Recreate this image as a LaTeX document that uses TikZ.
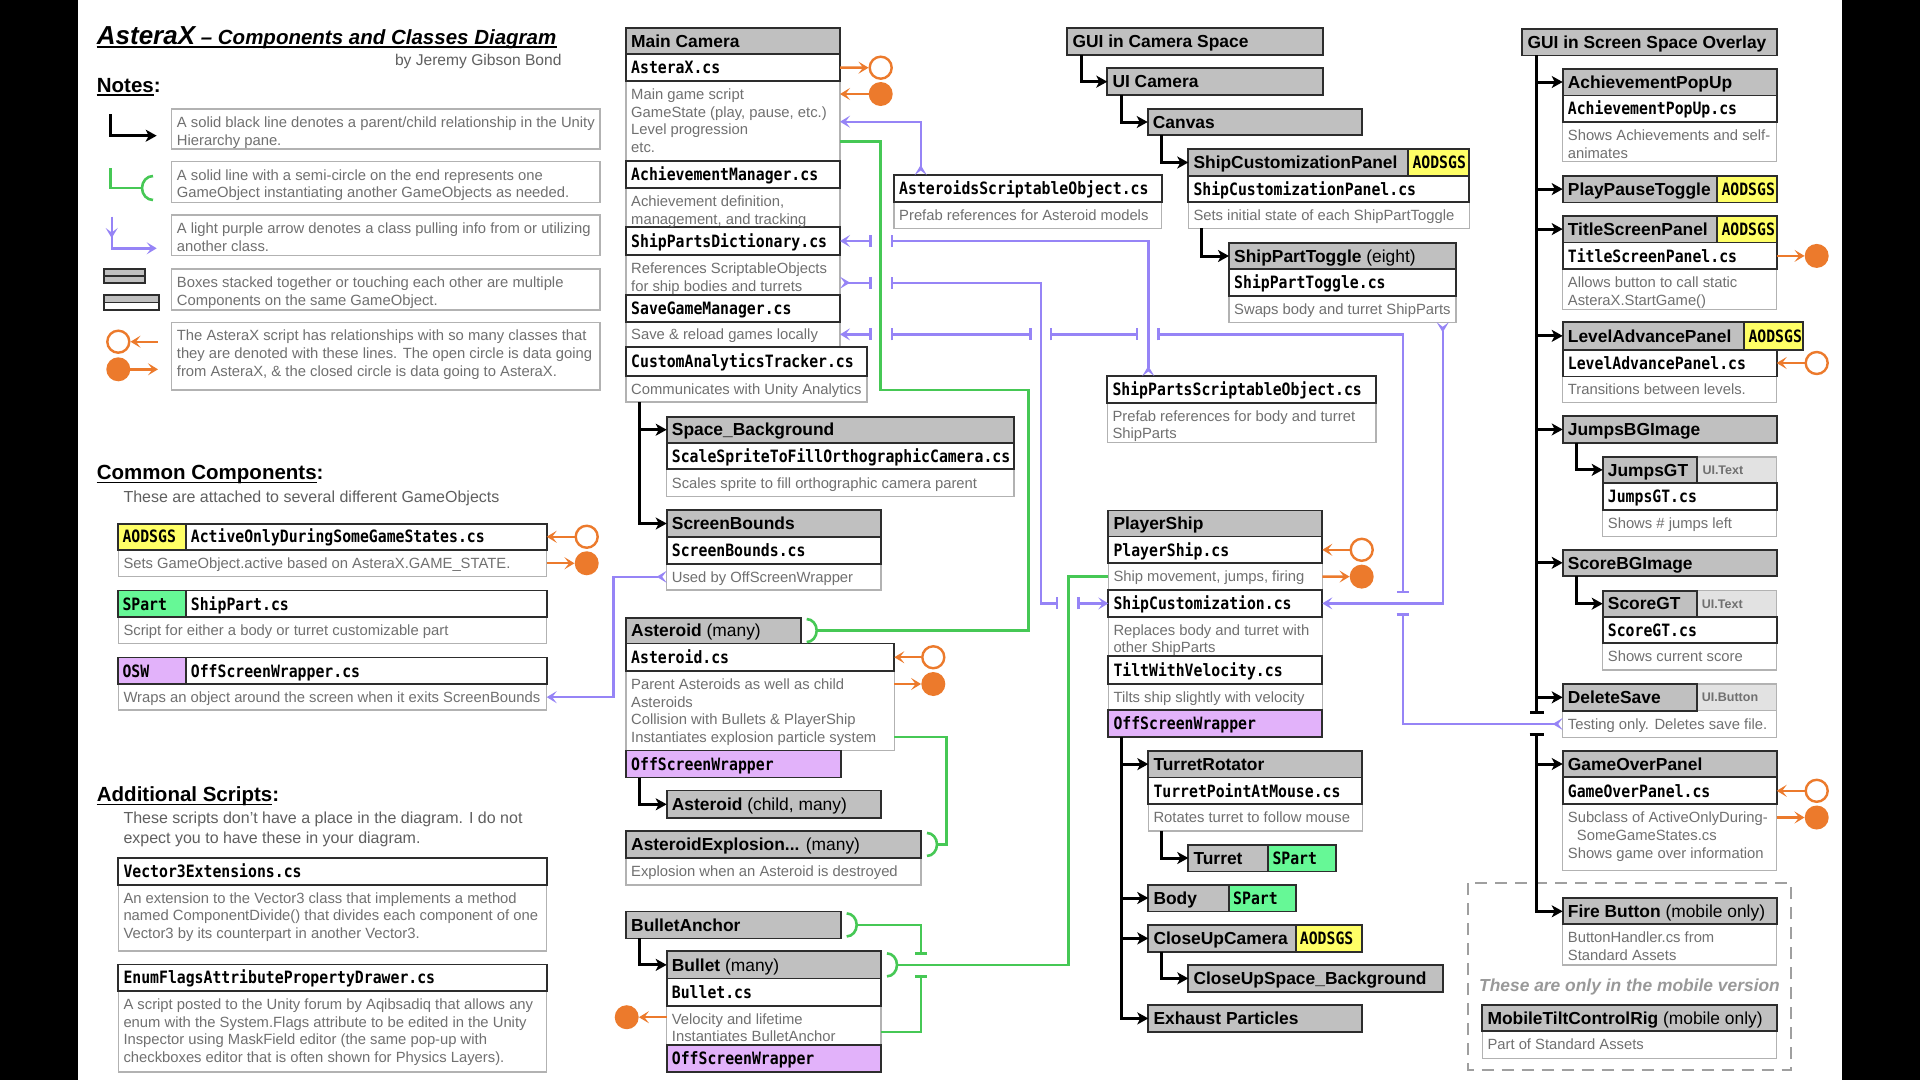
\documentclass[tikz,border=0pt]{standalone}
\usepackage{fontspec}
\setmainfont{Liberation Sans}
\newfontfamily\codefont[FakeStretch=0.87]{DejaVu Sans Mono}
\usetikzlibrary{arrows.meta,calc}

\definecolor{dark}{RGB}{45,45,45}
\definecolor{lite}{RGB}{178,178,178}
\definecolor{hdrgray}{RGB}{192,192,192}
\definecolor{desctext}{RGB}{112,112,112}
\definecolor{subtext}{RGB}{95,95,95}
\definecolor{tagyellow}{RGB}{255,255,102}
\definecolor{taggreen}{RGB}{102,248,150}
\definecolor{tagpurple}{RGB}{226,178,250}
\definecolor{tagui}{RGB}{226,226,226}
\definecolor{orng}{RGB}{236,122,44}
\definecolor{purline}{RGB}{150,132,246}
\definecolor{grnline}{RGB}{70,200,85}

\tikzset{
  bxbase/.style={anchor=north west, inner sep=0pt, outer sep=0pt},
  hd/.style={bxbase, draw=dark, fill=hdrgray, line width=1.8pt},
  cs/.style={bxbase, draw=dark, fill=white, line width=1.8pt},
  ds/.style={bxbase, draw=lite, fill=white, line width=1.5pt},
  tgY/.style={hd, fill=tagyellow},
  tgG/.style={hd, fill=taggreen},
  tgP/.style={hd, fill=tagpurple},
  tgT/.style={bxbase, draw=lite, fill=tagui, line width=1.5pt},
  hdt/.style={inner sep=0pt, anchor=base west, font=\fontsize{17.4}{20}\selectfont\bfseries},
  cst/.style={inner sep=0pt, anchor=base west, font=\fontsize{17}{20}\codefont\bfseries},
  dst/.style={inner sep=0pt, font=\fontsize{14.8}{17.7}\selectfont, text=desctext},
  uit/.style={inner sep=0pt, anchor=base west, font=\fontsize{12.5}{14}\selectfont\bfseries, text=desctext},
  secth/.style={inner sep=0pt, anchor=base west, font=\fontsize{20.5}{24}\selectfont\bfseries},
  subt/.style={inner sep=0pt, font=\fontsize{16}{20}\selectfont, text=subtext},
  ptip/.tip={Stealth[length=10pt,width=12pt,inset=4.5pt]},
  prtip/.tip={Stealth[length=10pt,width=12pt,inset=4.5pt,reversed]},
  pbar/.tip={Bar[width=12pt]},
  blk/.style={draw=black, line width=3pt, -{Stealth[length=11pt,width=12pt,inset=3pt]}},
  pur/.style={draw=purline, line width=2.4pt},
  grn/.style={draw=grnline, line width=2.6pt},
  org/.style={draw=orng, line width=2.4pt},
  ocirc/.style={circle, draw=orng, line width=2.4pt, fill=white, minimum size=22pt, inner sep=0pt},
  ccirc/.style={circle, fill=orng, minimum size=24pt, inner sep=0pt},
}

% box: style, name, x1, y1, x2, y2
\newcommand\bx[6]{\node[#1, minimum width={(#5)-(#3)}, minimum height={(#6)-(#4)}] (#2) at (#3,#4) {};}
% single-line labels inside a box
\newcommand\hx[2]{\node[hdt] (#1-t) at ($(#1.west)+(5,6.2)$) {#2};}
\newcommand\cx[2]{\node[cst] (#1-t) at ($(#1.west)+(5,6.2)$) {#2};}
\newcommand\tgx[2]{\node[cst] (#1-t) at ($(#1.west)+(4,6.2)$) {#2};}
\newcommand\dx[2]{\node[dst, anchor=base west] (#1-t) at ($(#1.west)+(5,5.3)$) {#2};}
\newcommand\ux[2]{\node[uit] (#1-t) at ($(#1.west)+(5,4.5)$) {#2};}
% multi-line description
\newcommand\mx[2]{\node[dst, anchor=north west, align=left] (#1-t) at ($(#1.north west)+(5,7.5)$) {#2};}
% instantiation cup to the right of a box
\newcommand\semi[2]{%
  \draw[grn] ($(#2.east)+(6,-11.5)$) arc[start angle=90,end angle=-90,x radius=10pt,y radius=11.5pt];
  \coordinate (#1) at ($(#2.east)+(16,0)$);}

\begin{document}
\begin{tikzpicture}[x=1pt,y=-1pt]
\useasboundingbox (0,0) rectangle (1920,1080);
\fill[black] (0,0) rectangle (1920,1080);
\fill[white] (78,0) rectangle (1842,1080);

%% ---------------- title and notes ----------------
\node[inner sep=0pt, anchor=base west] (title) at (96.7,44)
  {\bfseries\itshape\fontsize{26}{28}\selectfont AsteraX\fontsize{20.5}{24}\selectfont\ – Components and Classes Diagram};
\draw[line width=1.5pt] ($(title.base west)+(0,3)$) -- ($(title.base east)+(0,3)$);
\node[inner sep=0pt, anchor=base east, font=\fontsize{15.6}{18}\selectfont, text=subtext] (author) at (561.7,65.7) {by Jeremy Gibson Bond};

\node[secth] (notes) at (96.7,92) {Notes:};
\draw[line width=1.5pt] ($(notes.base west)+(0,3)$) -- ($(notes.base east)+(-7,3)$);

\bx{ds}{n1}{171.7}{109}{600}{149}
\mx{n1}{A solid black line denotes a parent/child relationship in the Unity\\Hierarchy pane.}
\bx{ds}{n2}{171.7}{161.7}{600}{202.7}
\mx{n2}{A solid line with a semi-circle on the end represents one\\GameObject instantiating another GameObjects as needed.}
\bx{ds}{n3}{171.7}{215}{600}{255.7}
\mx{n3}{A light purple arrow denotes a class pulling info from or utilizing\\another class.}
\bx{ds}{n4}{171.7}{269}{600}{310}
\mx{n4}{Boxes stacked together or touching each other are multiple\\Components on the same GameObject.}
\bx{ds}{n5}{171.7}{322.3}{600}{390}
\mx{n5}{The AsteraX script has relationships with so many classes that\\they are denoted with these lines. The open circle is data going\\from AsteraX, \& the closed circle is data going to AsteraX.}

% legend symbols
\draw[blk] (110.7,114) |- (156.7,135.7);
\draw[grn] (110.7,168) |- (142,188);
\draw[grn] (153,176) arc[start angle=90,end angle=270,x radius=11pt,y radius=12pt];
\draw[pur,-{ptip}] (111.7,216.7) -- (111.7,238);
\draw[pur,-{ptip}] (111.7,236) |- (156.7,248.3);
\draw[line width=1.2pt, draw=dark, fill=hdrgray] (104,269) rectangle (145,276);
\draw[line width=1.2pt, draw=dark, fill=hdrgray] (104,276) rectangle (145,283);
\draw[line width=1.2pt, draw=dark, fill=hdrgray] (104,295) rectangle (159,302.5);
\draw[line width=1.2pt, draw=dark, fill=white] (104,302.5) rectangle (159,310);
\draw[org, fill=white] (118.3,341.7) circle[radius=11pt];
\draw[org, {ptip}-] (130.5,341.7) -- (158,341.7);
\fill[orng] (118.3,369.3) circle[radius=12pt];
\draw[org, -{ptip}] (129,369.3) -- (158,369.3);

%% ---------------- common components ----------------
\node[secth] (common) at (96.7,479.7) {Common Components:};
\draw[line width=1.5pt] ($(common.base west)+(0,3)$) -- ($(common.base east)+(-7,3)$);
\node[subt, anchor=base west] (commonsub) at (123.3,502.5) {These are attached to several different GameObjects};

\bx{ds}{aodd}{118.3}{549.9}{546.7}{576.6}
\bx{cs}{aod}{185.7}{523.6}{546.7}{549.9}
\bx{tgY}{aodt}{118.3}{523.6}{185.7}{549.9}
\cx{aod}{ActiveOnlyDuringSomeGameStates.cs}
\tgx{aodt}{AODSGS}
\dx{aodd}{Sets GameObject.active based on AsteraX.GAME\_STATE.}

\bx{ds}{spad}{118.3}{617.2}{546.7}{643.5}
\bx{cs}{spa}{185.7}{590.5}{546.7}{617.2}
\bx{tgG}{spat}{118.3}{590.5}{185.7}{617.2}
\cx{spa}{ShipPart.cs}
\tgx{spat}{SPart}
\dx{spad}{Script for either a body or turret customizable part}

\bx{ds}{oswd}{118.3}{684.2}{546.7}{710.1}
\bx{cs}{osw}{185.7}{657.5}{546.7}{684.2}
\bx{tgP}{oswt}{118.3}{657.5}{185.7}{684.2}
\cx{osw}{OffScreenWrapper.cs}
\tgx{oswt}{OSW}
\dx{oswd}{Wraps an object around the screen when it exits ScreenBounds}

%% ---------------- additional scripts ----------------
\node[secth] (addl) at (96.7,801.7) {Additional Scripts:};
\draw[line width=1.5pt] ($(addl.base west)+(0,3)$) -- ($(addl.base east)+(-7,3)$);
\node[subt, anchor=north west, align=left] (addlsub) at (123.3,811.5)
  {These scripts don't have a place in the diagram. I do not\\expect you to have these in your diagram.};

\bx{ds}{v3d}{118.3}{884.6}{546.7}{951.2}
\bx{cs}{v3}{118.3}{857.6}{546.7}{884.6}
\cx{v3}{Vector3Extensions.cs}
\mx{v3d}{An extension to the Vector3 class that implements a method\\named ComponentDivide() that divides each component of one\\Vector3 by its counterpart in another Vector3.}

\bx{ds}{efd}{118.3}{991}{546.7}{1072}
\bx{cs}{ef}{118.3}{964.4}{546.7}{991}
\cx{ef}{EnumFlagsAttributePropertyDrawer.cs}
\mx{efd}{A script posted to the Unity forum by Aqibsadiq that allows any\\enum with the System.Flags attribute to be edited in the Unity\\Inspector using MaskField editor (the same pop-up with\\checkboxes editor that is often shown for Physics Layers).}

%% ---------------- Main Camera ----------------
\bx{ds}{astxd}{626}{81}{840}{160.7}
\bx{ds}{achmd}{626}{188.3}{840}{227}
\bx{ds}{spdd}{626}{255}{840}{295}
\bx{ds}{sgmd}{626}{321.7}{840}{347}
\bx{ds}{catd}{626}{376}{867}{402}
\bx{hd}{mc}{626}{28.3}{840}{54.3}
\bx{cs}{astx}{626}{54.3}{840}{81}
\bx{cs}{achm}{626}{160.7}{840}{188.3}
\bx{cs}{spd}{626}{227}{840}{255}
\bx{cs}{sgm}{626}{295}{840}{321.7}
\bx{cs}{cat}{626}{347}{867}{376}
\hx{mc}{Main Camera}
\cx{astx}{AsteraX.cs}
\mx{astxd}{Main game script\\GameState (play, pause, etc.)\\Level progression\\etc.}
\cx{achm}{AchievementManager.cs}
\mx{achmd}{Achievement definition,\\management, and tracking}
\cx{spd}{ShipPartsDictionary.cs}
\mx{spdd}{References ScriptableObjects\\for ship bodies and turrets}
\cx{sgm}{SaveGameManager.cs}
\dx{sgmd}{Save \& reload games locally}
\cx{cat}{CustomAnalyticsTracker.cs}
\dx{catd}{Communicates with Unity Analytics}

\bx{ds}{spbgd}{666.7}{469}{1014}{496.7}
\bx{hd}{spbg}{666.7}{416.7}{1014}{442.7}
\bx{cs}{spbgc}{666.7}{442.7}{1014}{469}
\hx{spbg}{Space\_Background}
\cx{spbgc}{ScaleSpriteToFillOrthographicCamera.cs}
\dx{spbgd}{Scales sprite to fill orthographic camera parent}

\bx{ds}{scbd}{666.7}{563.6}{881}{590}
\bx{hd}{scb}{666.7}{510}{881}{537}
\bx{cs}{scbc}{666.7}{537}{881}{563.6}
\hx{scb}{ScreenBounds}
\cx{scbc}{ScreenBounds.cs}
\dx{scbd}{Used by OffScreenWrapper}

%% ---------------- Asteroids and bullets ----------------
\bx{ds}{astd}{626}{671}{894.3}{750.5}
\bx{hd}{asth}{626}{617.6}{800.7}{643.5}
\bx{cs}{astc}{626}{643.5}{894.3}{671}
\bx{tgP}{asto}{626}{750.5}{840.7}{777.5}
\hx{asth}{Asteroid \mdseries(many)}
\cx{astc}{Asteroid.cs}
\mx{astd}{Parent Asteroids as well as child\\Asteroids\\Collision with Bullets \& PlayerShip\\Instantiates explosion particle system}
\cx{asto}{OffScreenWrapper}

\bx{hd}{astk}{666.7}{790.4}{881}{818.2}
\hx{astk}{Asteroid \mdseries(child, many)}

\bx{ds}{aed}{626}{857.8}{921}{884.8}
\bx{hd}{aeh}{626}{831.1}{921}{857.8}
\hx{aeh}{AsteroidExplosion... \mdseries(many)}
\dx{aed}{Explosion when an Asteroid is destroyed}

\bx{hd}{ba}{626}{911.4}{840.7}{938.4}
\hx{ba}{BulletAnchor}

\bx{ds}{buld}{666.7}{1005.7}{881}{1045}
\bx{hd}{bul}{666.7}{951.3}{881}{978.4}
\bx{cs}{bulc}{666.7}{978.4}{881}{1005.7}
\bx{tgP}{bulo}{666.7}{1045}{881}{1071.6}
\hx{bul}{Bullet \mdseries(many)}
\cx{bulc}{Bullet.cs}
\mx{buld}{Velocity and lifetime\\Instantiates BulletAnchor}
\cx{bulo}{OffScreenWrapper}

%% ---------------- scriptable objects ----------------
\bx{ds}{asod}{894}{202.3}{1161.7}{228.3}
\bx{cs}{aso}{894}{175}{1161.7}{202.3}
\cx{aso}{AsteroidsScriptableObject.cs}
\dx{asod}{Prefab references for Asteroid models}

\bx{ds}{spsod}{1107.3}{402.7}{1376}{442.7}
\bx{cs}{spso}{1107.3}{376}{1376}{402.7}
\cx{spso}{ShipPartsScriptableObject.cs}
\mx{spsod}{Prefab references for body and turret\\ShipParts}

%% ---------------- GUI in Camera Space ----------------
\bx{hd}{gcs}{1067.3}{28.3}{1322.7}{55}
\hx{gcs}{GUI in Camera Space}
\bx{hd}{uic}{1107.3}{68.3}{1322.7}{95}
\hx{uic}{UI Camera}
\bx{hd}{cnv}{1147.7}{109}{1362.3}{135}
\hx{cnv}{Canvas}
\bx{ds}{scpd}{1188.3}{202.3}{1469.3}{228.3}
\bx{hd}{scp}{1188.3}{149}{1408.3}{176}
\bx{tgY}{scpt}{1408.3}{149}{1469.3}{176}
\bx{cs}{scpc}{1188.3}{176}{1469.3}{202.3}
\hx{scp}{ShipCustomizationPanel}
\tgx{scpt}{AODSGS}
\cx{scpc}{ShipCustomizationPanel.cs}
\dx{scpd}{Sets initial state of each ShipPartToggle}
\bx{ds}{sptd}{1229}{296}{1456}{322.3}
\bx{hd}{spt}{1229}{242.7}{1456}{269.3}
\bx{cs}{sptc}{1229}{269.3}{1456}{296}
\hx{spt}{ShipPartToggle \mdseries(eight)}
\cx{sptc}{ShipPartToggle.cs}
\dx{sptd}{Swaps body and turret ShipParts}

%% ---------------- PlayerShip ----------------
\bx{ds}{psd}{1108.3}{563.2}{1322.3}{590}
\bx{ds}{scd}{1108.3}{616.8}{1322.3}{656}
\bx{ds}{twvd}{1108.3}{684}{1322.3}{709.6}
\bx{hd}{psh}{1108.3}{510.4}{1322.3}{536.4}
\bx{cs}{pscs}{1108.3}{536.4}{1322.3}{563.2}
\bx{cs}{scs}{1108.3}{590}{1322.3}{616.8}
\bx{cs}{twv}{1108.3}{656}{1322.3}{684}
\bx{tgP}{psosw}{1108.3}{709.6}{1322.3}{737}
\hx{psh}{PlayerShip}
\cx{pscs}{PlayerShip.cs}
\dx{psd}{Ship movement, jumps, firing}
\cx{scs}{ShipCustomization.cs}
\mx{scd}{Replaces body and turret with\\other ShipParts}
\cx{twv}{TiltWithVelocity.cs}
\dx{twvd}{Tilts ship slightly with velocity}
\cx{psosw}{OffScreenWrapper}

\bx{ds}{trd}{1148.3}{804.3}{1362.3}{831}
\bx{hd}{tr}{1148.3}{750.7}{1362.3}{777.5}
\bx{cs}{trc}{1148.3}{777.5}{1362.3}{804.3}
\hx{tr}{TurretRotator}
\cx{trc}{TurretPointAtMouse.cs}
\dx{trd}{Rotates turret to follow mouse}

\bx{hd}{tur}{1188.3}{844.6}{1268.3}{871.4}
\bx{tgG}{turt}{1268.3}{844.6}{1335.7}{871.4}
\hx{tur}{Turret}
\tgx{turt}{SPart}
\bx{hd}{body}{1148.3}{884.6}{1229}{911.4}
\bx{tgG}{bodyt}{1229}{884.6}{1295.7}{911.4}
\hx{body}{Body}
\tgx{bodyt}{SPart}
\bx{hd}{cuc}{1148.3}{925}{1295.7}{951.8}
\bx{tgY}{cuct}{1295.7}{925}{1362.3}{951.8}
\hx{cuc}{CloseUpCamera}
\tgx{cuct}{AODSGS}
\bx{hd}{cusb}{1188.3}{965}{1442.7}{991.8}
\hx{cusb}{CloseUpSpace\_Background}
\bx{hd}{exh}{1148.3}{1005}{1362.3}{1031.8}
\hx{exh}{Exhaust Particles}

%% ---------------- GUI in Screen Space Overlay ----------------
\bx{hd}{gso}{1522.3}{28.6}{1776.7}{55.4}
\hx{gso}{GUI in Screen Space Overlay}

\bx{ds}{apd}{1562.7}{122.1}{1776.7}{161.4}
\bx{hd}{ap}{1562.7}{68.6}{1776.7}{95.4}
\bx{cs}{apc}{1562.7}{95.4}{1776.7}{122.1}
\hx{ap}{AchievementPopUp}
\cx{apc}{AchievementPopUp.cs}
\mx{apd}{Shows Achievements and self-\\animates}

\bx{hd}{ppt}{1562.7}{175.7}{1717.3}{202.5}
\bx{tgY}{pptt}{1717.3}{175.7}{1776.7}{202.5}
\hx{ppt}{PlayPauseToggle}
\tgx{pptt}{AODSGS}

\bx{ds}{tspd}{1562.7}{269.3}{1776.7}{309.6}
\bx{hd}{tsp}{1562.7}{215.7}{1717.3}{242.5}
\bx{tgY}{tspt}{1717.3}{215.7}{1776.7}{242.5}
\bx{cs}{tspc}{1562.7}{242.5}{1776.7}{269.3}
\hx{tsp}{TitleScreenPanel}
\tgx{tspt}{AODSGS}
\cx{tspc}{TitleScreenPanel.cs}
\mx{tspd}{Allows button to call static\\AsteraX.StartGame()}

\bx{ds}{lapd}{1562.7}{376.4}{1776.7}{402.5}
\bx{hd}{lap}{1562.7}{322.1}{1744.3}{349.6}
\bx{tgY}{lapt}{1744.3}{322.1}{1803.3}{349.6}
\bx{cs}{lapc}{1562.7}{349.6}{1776.7}{376.4}
\hx{lap}{LevelAdvancePanel}
\tgx{lapt}{AODSGS}
\cx{lapc}{LevelAdvancePanel.cs}
\dx{lapd}{Transitions between levels.}

\bx{hd}{jbg}{1562.7}{416}{1776.7}{442.9}
\hx{jbg}{JumpsBGImage}
\bx{ds}{jgtd}{1602.7}{509.6}{1776.7}{536.4}
\bx{tgT}{jgtt}{1697.3}{456.8}{1776.7}{482.9}
\bx{hd}{jgt}{1602.7}{456.8}{1697.3}{482.9}
\bx{cs}{jgtc}{1602.7}{482.9}{1776.7}{509.6}
\hx{jgt}{JumpsGT}
\ux{jgtt}{UI.Text}
\cx{jgtc}{JumpsGT.cs}
\dx{jgtd}{Shows \# jumps left}

\bx{hd}{scbg}{1562.7}{549.6}{1776.7}{576}
\hx{scbg}{ScoreBGImage}
\bx{ds}{sgtd}{1602.7}{643.3}{1776.7}{670}
\bx{tgT}{sgtt}{1696.7}{590.7}{1776.7}{616.7}
\bx{hd}{sgt}{1602.7}{590.7}{1696.7}{616.7}
\bx{cs}{sgtc}{1602.7}{616.7}{1776.7}{643.3}
\hx{sgt}{ScoreGT}
\ux{sgtt}{UI.Text}
\cx{sgtc}{ScoreGT.cs}
\dx{sgtd}{Shows current score}

\bx{ds}{dsd}{1562.7}{710.7}{1776.7}{737.3}
\bx{tgT}{dsvt}{1696.7}{684}{1776.7}{710.7}
\bx{hd}{dsv}{1562.7}{684}{1696.7}{710.7}
\hx{dsv}{DeleteSave}
\ux{dsvt}{UI.Button}
\dx{dsd}{Testing only. Deletes save file.}

\bx{ds}{gopd}{1562.7}{804.3}{1776.7}{870.7}
\bx{hd}{gop}{1562.7}{750.7}{1776.7}{777.3}
\bx{cs}{gopc}{1562.7}{777.3}{1776.7}{804.3}
\hx{gop}{GameOverPanel}
\cx{gopc}{GameOverPanel.cs}
\mx{gopd}{Subclass of ActiveOnlyDuring-\\\hspace*{9pt}SomeGameStates.cs\\Shows game over information}

% mobile-only objects
\draw[draw=gray!75, line width=2pt, dash pattern=on 12pt off 8pt] (1468.3,883.3) rectangle (1790.7,1070);
\bx{ds}{fbd}{1562.7}{924.3}{1776.7}{965}
\bx{hd}{fb}{1562.7}{898.3}{1776.7}{924.3}
\hx{fb}{Fire Button \mdseries(mobile only)}
\mx{fbd}{ButtonHandler.cs from\\Standard Assets}
\node[inner sep=0pt, anchor=base, font=\fontsize{17.4}{20}\selectfont\bfseries\itshape, text=gray!80] (mobnote) at (1629.5,991) {These are only in the mobile version};
\bx{ds}{mtcd}{1482.3}{1031}{1776.7}{1058.3}
\bx{hd}{mtc}{1482.3}{1005}{1776.7}{1031}
\hx{mtc}{MobileTiltControlRig \mdseries(mobile only)}
\dx{mtcd}{Part of Standard Assets}

%% ---------------- hierarchy (black) ----------------
\draw[blk] (639,0 |- catd.south) |- (spbg.west);
\draw[blk] (639,0 |- catd.south) |- (scb.west);
\draw[blk] (639,0 |- asto.south) |- (astk.west);
\draw[blk] (639,0 |- ba.south) |- (bul.west);
\draw[blk] (1081.7,0 |- gcs.south) |- (uic.west);
\draw[blk] (1121,0 |- uic.south) |- (cnv.west);
\draw[blk] (1161.7,0 |- cnv.south) |- (scp.west);
\draw[blk] (1201.7,0 |- scpd.south) |- (spt.west);
\draw[blk] (1121,0 |- psosw.south) |- (tr.west);
\draw[blk] (1121,0 |- psosw.south) |- (body.west);
\draw[blk] (1121,0 |- psosw.south) |- (cuc.west);
\draw[blk] (1121,0 |- psosw.south) |- (exh.west);
\draw[blk] (1161.7,0 |- trd.south) |- (tur.west);
\draw[blk] (1161.7,0 |- cuc.south) |- (cusb.west);
\foreach \tgt in {ap,ppt,tsp,lap,jbg,scbg,dsv}
  \draw[blk] (1536.5,0 |- gso.south) |- (\tgt.west);
\draw[blk, -{Bar[width=14pt]}] (1536.5,0 |- gso.south) -- (1536.5,714);
\draw[blk] (1536.5,733.3) |- (gop.west);
\draw[blk] (1536.5,733.3) |- (fb.west);
\draw[blk, {Bar[width=14pt]}-] (1536.5,733.3) -- (1536.5,0 |- fb.west);
\draw[blk] (1576.7,0 |- jbg.south) |- (jgt.west);
\draw[blk] (1576.7,0 |- scbg.south) |- (sgt.west);

%% ---------------- instantiation (green) ----------------
\semi{astS}{asth}
\semi{aeS}{aeh}
\semi{baS}{ba}
\semi{bulS}{bul}
\draw[grn] (astxd.east |- 0,141.7) -| (880.7,390) -| (1028.3,0 |- astS) -- (astS);
\draw[grn] (astd.east |- 0,736.8) -| (946.7,0 |- aeS) -- (aeS);
\draw[grn] (psd.west) -| (1068.3,0 |- bulS) -- (bulS);
\draw[grn, -{pbar}] (buld.east |- 0,1032) -| (921,975.4);
\draw[grn, {pbar}-] (921,955) |- (baS);

%% ---------------- usage (purple) ----------------
\draw[pur, {prtip}-{ptip}] (920.7,0 |- aso.north) |- (astxd.east |- 0,121.7);
\draw[pur, {prtip}-{pbar}] (1148.3,0 |- spso.north) |- (890.7,0 |- spd.east);
\draw[pur, {pbar}-{ptip}] (871.7,0 |- spd.east) -- (spd.east);
\draw[pur, {prtip}-{pbar}] (spdd.east |- 0,282.7) -- (871.7,282.7);
\draw[pur, {pbar}-{pbar}] (890.7,282.7) -| (1041,0 |- scs.west) -- (1058.3,0 |- scs.west);
\draw[pur, {pbar}-{ptip}] (1077.3,0 |- scs.west) -- (scs.west);
\draw[pur, {prtip}-{pbar}] (dsd.west) -| (1402.7,613.3);
\draw[pur, {pbar}-{pbar}] (1402.7,593.3) |- (1157.3,0 |- sgmd.east);
\draw[pur, {pbar}-{pbar}] (1138.3,0 |- sgmd.east) -- (1050,0 |- sgmd.east);
\draw[pur, {pbar}-{pbar}] (1031.7,0 |- sgmd.east) -- (890.7,0 |- sgmd.east);
\draw[pur, {pbar}-{ptip}] (871.7,0 |- sgmd.east) -- (sgmd.east);
\draw[pur, {prtip}-{ptip}] (1442.7,0 |- sptd.south) |- (scs.east);
\draw[pur, {prtip}-{ptip}] (scbd.west) -| (613.3,0 |- oswd.east) -- (oswd.east);

%% ---------------- AsteraX data links (orange) ----------------
\node[ocirc] (oAx) at (880.7,67.7) {};
\draw[org, -{ptip}] (astx.east) -- (oAx.west);
\node[ccirc] (cAx) at (880.7,94) {};
\draw[org, -{ptip}] (cAx.west) -- (astxd.east |- cAx.west);
\node[ocirc] (oAo) at (586.7,536.75) {};
\draw[org, -{ptip}] (oAo.west) -- (aod.east |- oAo.west);
\node[ccirc] (cAo) at (586.7,563.25) {};
\draw[org, -{ptip}] (aodd.east |- cAo.west) -- (cAo.west);
\node[ocirc] (oAs) at (933.3,657.25) {};
\draw[org, -{ptip}] (oAs.west) -- (astc.east |- oAs.west);
\node[ccirc] (cAs) at (933.3,684) {};
\draw[org, -{ptip}] (astd.east |- cAs.west) -- (cAs.west);
\node[ocirc] (oPs) at (1361.7,549.8) {};
\draw[org, -{ptip}] (oPs.west) -- (pscs.east |- oPs.west);
\node[ccirc] (cPs) at (1361.7,576.6) {};
\draw[org, -{ptip}] (psd.east) -- (cPs.west);
\node[ccirc] (cBu) at (626.7,1017.2) {};
\draw[org, -{ptip}] (buld.west |- cBu.east) -- (cBu.east);
\node[ccirc] (cTs) at (1816.7,255.9) {};
\draw[org, -{ptip}] (tspc.east) -- (cTs.west);
\node[ocirc] (oLa) at (1816.7,363) {};
\draw[org, -{ptip}] (oLa.west) -- (lapc.east);
\node[ocirc] (oGo) at (1816.7,790.8) {};
\draw[org, -{ptip}] (oGo.west) -- (gopc.east);
\node[ccirc] (cGo) at (1816.7,817.5) {};
\draw[org, -{ptip}] (gopd.east |- cGo.west) -- (cGo.west);
\end{tikzpicture}
\end{document}
